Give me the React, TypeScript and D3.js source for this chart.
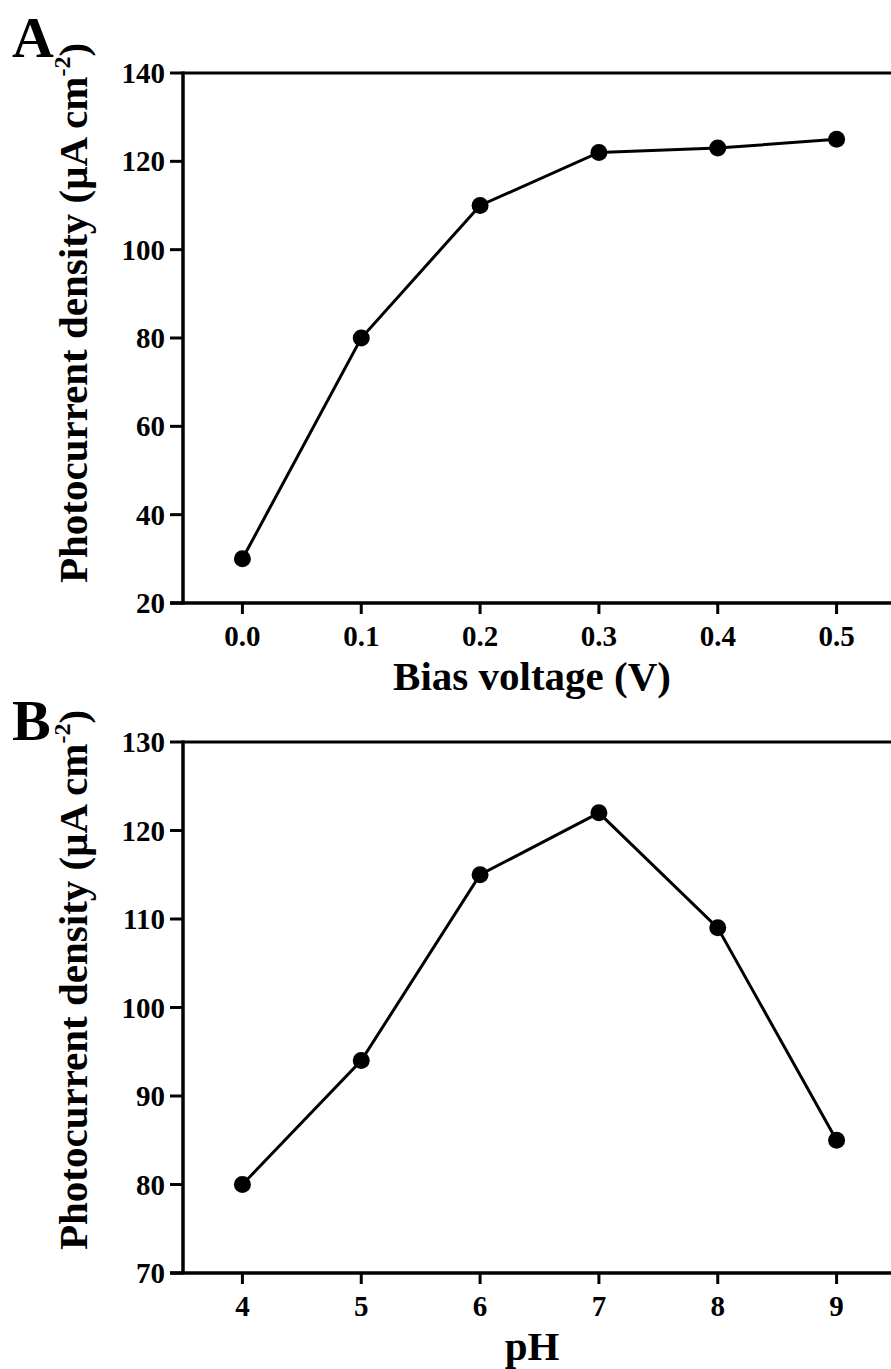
import React from "react";
import * as d3 from "d3";

// panel A: photocurrent vs bias voltage
const biasVoltage = [0.0, 0.1, 0.2, 0.3, 0.4, 0.5];
const currentA = [30, 80, 110, 122, 123, 125];
const ticksAx = [0.0, 0.1, 0.2, 0.3, 0.4, 0.5];
const ticksAy = [20, 40, 60, 80, 100, 120, 140];

// panel B: photocurrent vs pH
const phValues = [4, 5, 6, 7, 8, 9];
const currentB = [80, 94, 115, 122, 109, 85];
const ticksBx = [4, 5, 6, 7, 8, 9];
const ticksBy = [70, 80, 90, 100, 110, 120, 130];

const FONT = "'Liberation Serif', 'Times New Roman', serif";

function Panel({ letter, xs, ys, xDomain, yDomain, xTicks, yTicks, xFormat, xTitle, top, bottom, titleY, letterY, yTitleCenter }) {
  const x = d3.scaleLinear().domain(xDomain).range([183, 896]);
  const y = d3.scaleLinear().domain(yDomain).range([bottom, top]);
  const pts = xs.map((v, i) => [x(v), y(ys[i])]);
  const line = d3.line()(pts);

  return (
    <g fontFamily={FONT} fontWeight="bold" fill="#000">
      <text x={12} y={letterY} fontSize={58}>{letter}</text>

      {/* top frame line */}
      <line x1={183} x2={891} y1={top} y2={top} stroke="#000" strokeWidth={3} />
      {/* y axis */}
      <line x1={183} x2={183} y1={top - 1.5} y2={bottom + 1.5} stroke="#000" strokeWidth={3.5} />
      {yTicks.map(t => (
        <g key={"y" + t}>
          <line x1={170} x2={183} y1={y(t)} y2={y(t)} stroke="#000" strokeWidth={3} />
          <text x={165} y={y(t) + 10} fontSize={29} textAnchor="end">{t}</text>
        </g>
      ))}
      {/* x axis */}
      <line x1={170} x2={891} y1={bottom} y2={bottom} stroke="#000" strokeWidth={3.5} />
      {xTicks.map(t => (
        <g key={"x" + t}>
          <line x1={x(t)} x2={x(t)} y1={bottom} y2={bottom + 11} stroke="#000" strokeWidth={3} />
          <text x={x(t)} y={bottom + 43} fontSize={29} textAnchor="middle">{xFormat(t)}</text>
        </g>
      ))}
      <text x={532} y={titleY} fontSize={41} textAnchor="middle">{xTitle}</text>

      <text transform={`translate(87, ${yTitleCenter}) rotate(-90)`} fontSize={41} textAnchor="middle">
        Photocurrent density (μA cm<tspan dy={-17} fontSize={24}>-2</tspan><tspan dy={17}>)</tspan>
      </text>

      <path d={line} fill="none" stroke="#000" strokeWidth={3} />
      {pts.map((p, i) => (
        <circle key={i} cx={p[0]} cy={p[1]} r={8.5} fill="#000" />
      ))}
    </g>
  );
}

export default function App() {
  return (
    <svg width={891} height={1369} style={{ position: "absolute", left: 0, top: 0, background: "#fff" }}>
      <rect width={891} height={1369} fill="#fff" />
      <Panel
        letter="A"
        xs={biasVoltage}
        ys={currentA}
        xDomain={[-0.05, 0.55]}
        yDomain={[20, 140]}
        xTicks={ticksAx}
        yTicks={ticksAy}
        xFormat={d3.format(".1f")}
        xTitle="Bias voltage (V)"
        top={73}
        bottom={603}
        titleY={690}
        letterY={57}
        yTitleCenter={313}
      />
      <Panel
        letter="B"
        xs={phValues}
        ys={currentB}
        xDomain={[3.5, 9.5]}
        yDomain={[70, 130]}
        xTicks={ticksBx}
        yTicks={ticksBy}
        xFormat={d3.format("d")}
        xTitle="pH"
        top={742}
        bottom={1273}
        titleY={1360}
        letterY={740}
        yTitleCenter={980}
      />
    </svg>
  );
}
